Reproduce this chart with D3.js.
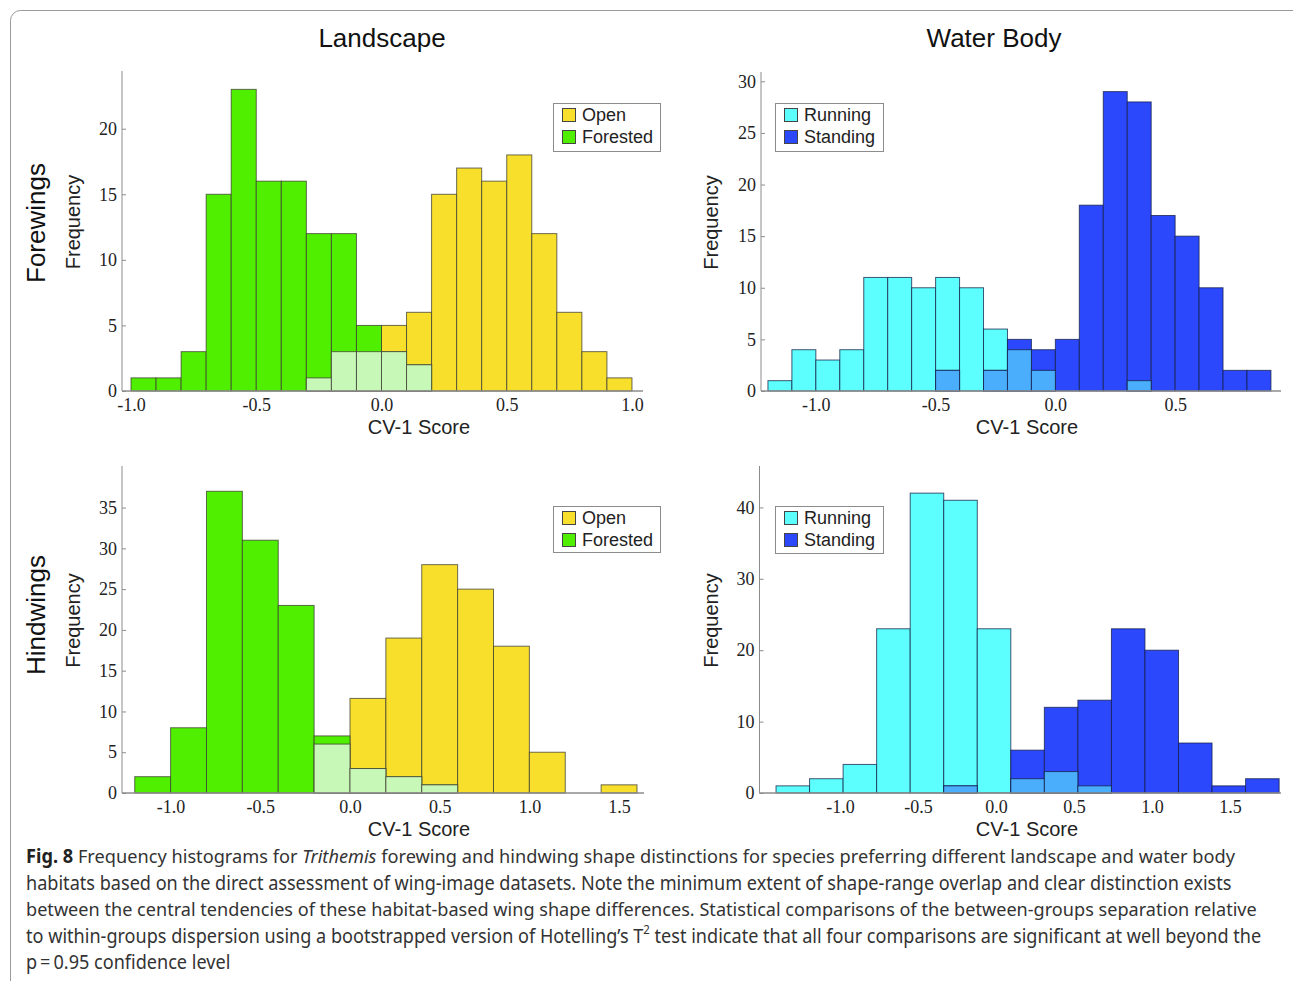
<!DOCTYPE html>
<html>
<head>
<meta charset="utf-8">
<script src="https://cdn.jsdelivr.net/npm/d3@7"></script>
<style>
  body { margin: 0; background: #fff; }
  svg { display: block; }
</style>
</head>
<body>
<svg id="fig" width="1293" height="981"></svg>
<script>
// bin layout (start, width) and counts
const foreLandStart = -1.0, foreLandWidth = 0.1;
const foreOpen     = [0, 0, 0, 0, 0, 0, 0, 1, 3, 3, 5, 6, 15, 17, 16, 18, 12, 6, 3, 1];
const foreForested = [1, 1, 3, 15, 23, 16, 16, 12, 12, 5, 3, 2, 0, 0, 0, 0, 0, 0, 0, 0];

const foreWaterStart = -1.2, foreWaterWidth = 0.1;
const foreRunning  = [1, 4, 3, 4, 11, 11, 10, 11, 10, 6, 4, 2, 0, 0, 0, 1, 0, 0, 0, 0, 0];
const foreStanding = [0, 0, 0, 0, 0, 0, 0, 2, 0, 2, 5, 4, 5, 18, 29, 28, 17, 15, 10, 2, 2];

const hindLandStart = -1.2, hindLandWidth = 0.2;
const hindOpen     = [0, 0, 0, 0, 0, 6, 11.6, 19, 28, 25, 18, 5, 0, 1];
const hindForested = [2, 8, 37, 31, 23, 7, 3, 2, 1, 0, 0, 0, 0, 0];

const hindWaterStart = -1.41, hindWaterWidth = 0.215;
const hindRunning  = [1, 2, 4, 23, 42, 41, 23, 2, 3, 1, 0, 0, 0, 0, 0];
const hindStanding = [0, 0, 0, 0, 0, 1, 0, 6, 12, 13, 23, 20, 7, 1, 2];

const landscapeNames = ["Open", "Forested"];
const waterNames = ["Running", "Standing"];

const xTicksFore = [-1.0, -0.5, 0.0, 0.5, 1.0];
const xTicksForeWater = [-1.0, -0.5, 0.0, 0.5];
const xTicksHind = [-1.0, -0.5, 0.0, 0.5, 1.0, 1.5];

const colors = {
  Open: "#f8df2c",
  Forested: "#50ef00",
  landOverlap: "#c8f8b8",
  Running: "#5cfffd",
  Standing: "#2b48fd",
  waterOverlap: "#4aaefc"
};

const svg = d3.select("#fig");

// outer frame of the figure
svg.append("rect")
  .attr("x", 10.5).attr("y", 10.5)
  .attr("width", 1310).attr("height", 1000)
  .attr("rx", 10)
  .attr("fill", "none")
  .attr("stroke", "#9a9a9a");

const panels = [
  {
    start: foreLandStart, width: foreLandWidth, a: foreOpen, b: foreForested,
    names: landscapeNames, overlap: colors.landOverlap,
    xr: [122, 643], xd: [-1.036, 1.044], yr: [391, 71], yd: [0, 24.4],
    yticks: [0, 5, 10, 15, 20], xticks: xTicksFore,
    legend: [553, 103, 107, 48], xlabel: 419, ylabelX: 73
  },
  {
    start: foreWaterStart, width: foreWaterWidth, a: foreRunning, b: foreStanding,
    names: waterNames, overlap: colors.waterOverlap,
    xr: [761, 1281], xd: [-1.229, 0.942], yr: [391, 72], yd: [0, 30.9],
    yticks: [0, 5, 10, 15, 20, 25, 30], xticks: xTicksForeWater,
    legend: [775, 103, 108, 48], xlabel: 1027, ylabelX: 711
  },
  {
    start: hindLandStart, width: hindLandWidth, a: hindOpen, b: hindForested,
    names: landscapeNames, overlap: colors.landOverlap,
    xr: [122, 644], xd: [-1.271, 1.639], yr: [793, 466], yd: [0, 40.1],
    yticks: [0, 5, 10, 15, 20, 25, 30, 35], xticks: xTicksHind,
    legend: [553, 506, 107, 46], xlabel: 419, ylabelX: 73
  },
  {
    start: hindWaterStart, width: hindWaterWidth, a: hindRunning, b: hindStanding,
    names: waterNames, overlap: colors.waterOverlap,
    xr: [759.5, 1281], xd: [-1.516, 1.827], yr: [793, 466], yd: [0, 45.8],
    yticks: [0, 10, 20, 30, 40], xticks: xTicksHind,
    legend: [775, 506, 108, 47], xlabel: 1027, ylabelX: 711
  }
];

panels.forEach(drawPanel);

function drawPanel(p) {
  const x = d3.scaleLinear().domain(p.xd).range(p.xr);
  const y = d3.scaleLinear().domain(p.yd).range(p.yr);
  const g = svg.append("g");

  const bins = p.a.map((v, i) => ({
    x0: p.start + i * p.width,
    x1: p.start + (i + 1) * p.width,
    a: v,
    b: p.b[i],
    lo: Math.min(v, p.b[i])
  }));

  const stroke = p.names[0] === "Open" ? "rgba(60,60,50,0.75)" : "rgba(20,30,70,0.75)";

  // each series at full height, then the overlap part on top
  [["a", colors[p.names[0]]], ["b", colors[p.names[1]]], ["lo", p.overlap]].forEach(([key, fill]) => {
    g.append("g")
      .selectAll("rect")
      .data(bins.filter((d) => d[key] > 0))
      .join("rect")
      .attr("x", (d) => x(d.x0))
      .attr("width", (d) => x(d.x1) - x(d.x0))
      .attr("y", (d) => y(d[key]))
      .attr("height", (d) => y(0) - y(d[key]))
      .attr("fill", fill)
      .attr("stroke", stroke)
      .attr("stroke-width", 1);
  });

  // axes
  const yAxis = g.append("g")
    .attr("transform", `translate(${p.xr[0]},0)`)
    .call(d3.axisRight(y).tickValues(p.yticks).tickSize(4).tickFormat(d3.format("d")));
  yAxis.select(".domain").attr("stroke", "#8c8c8c").attr("d", `M0,${p.yr[0]}V${p.yr[1]}`);
  yAxis.selectAll(".tick line").attr("stroke", "#8c8c8c");
  yAxis.selectAll(".tick text")
    .attr("x", -5)
    .attr("text-anchor", "end")
    .attr("font-family", "'Liberation Serif', 'DejaVu Serif', serif")
    .attr("font-size", 18)
    .attr("fill", "#222");

  const xAxis = g.append("g")
    .attr("transform", `translate(0,${p.yr[0]})`)
    .call(d3.axisBottom(x).tickValues(p.xticks).tickSize(0)
      .tickFormat((d) => d.toFixed(1)));
  xAxis.select(".domain").attr("stroke", "#8c8c8c").attr("stroke-width", 1.5)
    .attr("d", `M${p.xr[0]},0H${p.xr[1]}`);
  xAxis.selectAll(".tick text")
    .attr("y", 7)
    .attr("font-family", "'Liberation Serif', 'DejaVu Serif', serif")
    .attr("font-size", 18)
    .attr("fill", "#222");

  g.append("text")
    .attr("x", p.xlabel)
    .attr("y", p.yr[0] + 43)
    .attr("text-anchor", "middle")
    .attr("font-family", "'Liberation Sans', Arial, sans-serif")
    .attr("font-size", 20)
    .attr("fill", "#222")
    .text("CV-1 Score");

  const ymid = (p.yr[0] + p.yr[1]) / 2 - 9;
  g.append("text")
    .attr("transform", `translate(${p.ylabelX},${ymid}) rotate(-90)`)
    .attr("text-anchor", "middle")
    .attr("dy", "0.35em")
    .attr("font-family", "'Liberation Sans', Arial, sans-serif")
    .attr("font-size", 20)
    .attr("fill", "#222")
    .text("Frequency");

  // legend
  const [lx, ly, lw, lh] = p.legend;
  const lg = g.append("g");
  lg.append("rect")
    .attr("x", lx + 0.5).attr("y", ly + 0.5)
    .attr("width", lw).attr("height", lh)
    .attr("fill", "#fff")
    .attr("stroke", "#8c8c8c");
  p.names.forEach((name, i) => {
    const rowY = ly + 5 + i * 22;
    lg.append("rect")
      .attr("x", lx + 9.5).attr("y", rowY + 0.5)
      .attr("width", 13).attr("height", 13)
      .attr("fill", colors[name])
      .attr("stroke", "#444");
    lg.append("text")
      .attr("x", lx + 29)
      .attr("y", rowY + 13)
      .attr("font-family", "'Liberation Sans', Arial, sans-serif")
      .attr("font-size", 18)
      .attr("fill", "#222")
      .text(name);
  });
}

// column and row titles
[["Landscape", 382], ["Water Body", 994]].forEach(([t, cx]) => {
  svg.append("text")
    .attr("x", cx).attr("y", 47)
    .attr("text-anchor", "middle")
    .attr("font-family", "'Liberation Sans', Arial, sans-serif")
    .attr("font-size", 26)
    .attr("fill", "#111")
    .text(t);
});
[["Forewings", 223], ["Hindwings", 615]].forEach(([t, cy]) => {
  svg.append("text")
    .attr("transform", `translate(36,${cy}) rotate(-90)`)
    .attr("text-anchor", "middle")
    .attr("dy", "0.35em")
    .attr("font-family", "'Liberation Sans', Arial, sans-serif")
    .attr("font-size", 26)
    .attr("fill", "#111")
    .text(t);
});

// caption, each line squeezed to the width it has in the figure
const captionLines = [
  { end: 1236, parts: [["Fig. 8", "bold"], ["  Frequency histograms for ", ""], ["Trithemis", "italic"], [" forewing and hindwing shape distinctions for species preferring different landscape and water body", ""]] },
  { end: 1232, parts: [["habitats based on the direct assessment of wing-image datasets. Note the minimum extent of shape-range overlap and clear distinction exists", ""]] },
  { end: 1258, parts: [["between the central tendencies of these habitat-based wing shape differences. Statistical comparisons of the between-groups separation relative", ""]] },
  { end: 1261, parts: [["to within-groups dispersion using a bootstrapped version of Hotelling\u2019s T", ""], ["2", "sup"], [" test indicate that all four comparisons are significant at well beyond the", ""]] },
  { end: null, parts: [["p\u2009=\u20090.95 confidence level", ""]] }
];

let lastScale = 0.8;
captionLines.forEach((line, i) => {
  const by = 863 + i * 26.5;
  const t = svg.append("text")
    .attr("font-family", "'Noto Sans', 'Open Sans', sans-serif")
    .attr("font-size", 19)
    .attr("fill", "#333");
  line.parts.forEach(([s, style]) => {
    const ts = t.append("tspan").text(s);
    if (style === "bold") ts.attr("font-weight", "bold").attr("fill", "#222");
    if (style === "italic") ts.attr("font-style", "italic");
    if (style === "sup") ts.attr("font-size", 12).attr("baseline-shift", "super");
  });
  const len = t.node().getComputedTextLength();
  const sx = line.end ? (line.end - 26) / len : lastScale;
  lastScale = sx;
  t.attr("transform", `translate(26,${by}) scale(${sx},1)`);
});
</script>
</body>
</html>
